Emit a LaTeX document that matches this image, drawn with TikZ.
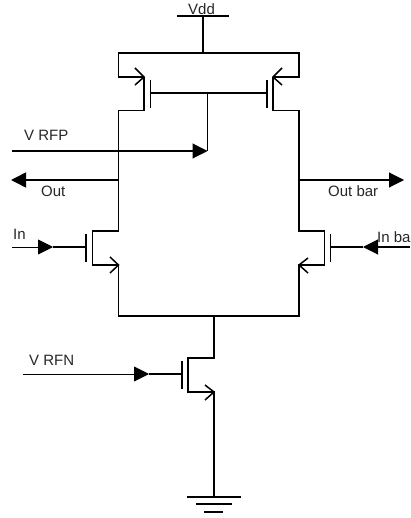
\documentclass[tikz,border=0pt]{standalone}
\usepackage{fontspec}
\setmainfont{Liberation Sans}
\usetikzlibrary{arrows.meta}
\tikzset{
  wire/.style={line width=1.6pt,black,line join=miter},
  thinwire/.style={line width=0.9pt,black},
  sig/.style={-{Triangle[length=15pt,width=15pt,fill=black]},shorten >=0pt},
  chev/.style={line width=1.5pt,black,line join=miter},
  lbl/.style={inner sep=0pt,anchor=base west,font=\fontsize{15}{17}\selectfont,text=black!85}
}
\begin{document}
\begin{tikzpicture}[x=1pt,y=-1pt]
\useasboundingbox (0,0) rectangle (410,518);
% key points
\coordinate (vddL) at (177,16); \coordinate (vddR) at (229,16); \coordinate (vddM) at (203,16);
\coordinate (railM) at (203,53);
\coordinate (p1s) at (144,77); \coordinate (p1d) at (144,110.5);
\coordinate (p2s) at (273,77); \coordinate (p2d) at (273,110.5);
\coordinate (gL) at (150.5,93); \coordinate (gR) at (267,93); \coordinate (gM) at (207.5,93);
\coordinate (rfpEnd) at (207.5,151); \coordinate (rfpStart) at (12,151);
\coordinate (outJ) at (118.5,180); \coordinate (outEnd) at (11,180);
\coordinate (obJ) at (299,180); \coordinate (obEnd) at (404,180);
\coordinate (n1d) at (92.5,231); \coordinate (n1s) at (118.5,265);
\coordinate (n2d) at (324.5,231); \coordinate (n2s) at (299,265);
\coordinate (n1g) at (86,247); \coordinate (n2g) at (330.5,247);
\coordinate (tailM) at (214,316);
\coordinate (n3d) at (188,358); \coordinate (n3s) at (214,392); \coordinate (n3g) at (182,374);
\coordinate (gnd) at (214,497);
% supply
\draw[wire] (vddL) -- (vddR);
\draw[wire] (vddM) -- (railM);
\draw[wire] (p1s) -- (118.5,77) -- (118.5,53) -- (299,53) -- (299,77) -- (p2s);
% PMOS pair and NMOS pair loop
\draw[wire] (p1s) -- (p1d) -- (118.5,110.5) -- (118.5,231) -- (n1d) -- (92.5,265) -- (n1s) -- (118.5,316) -- (299,316) -- (n2s) -- (324.5,265) -- (n2d) -- (299,231) -- (299,110.5) -- (p2d) -- (p2s);
\draw[wire] (150.5,80) -- (150.5,108);
\draw[wire] (267,80) -- (267,108);
\draw[wire] (gL) -- (gR);
\draw[wire] (gM) -- (rfpEnd);
% NMOS pair gates
\draw[wire] (86,234) -- (86,262);
\draw[wire] (330.5,234) -- (330.5,262);
% tail transistor
\draw[wire] (tailM) -- (214,358) -- (n3d) -- (188,392) -- (n3s) -- (gnd);
\draw[wire] (182,361) -- (182,389);
% ground
\draw[wire] (187,497) -- (241,497);
\draw[wire] (196,504) -- (232,504);
\draw[wire] (204,512) -- (223,512);
% chevrons
\draw[chev] (135,68) -- (p1s) -- (135,85);
\draw[chev] (282,68) -- (p2s) -- (282,85);
\draw[chev] (110,257) -- (n1s) -- (110,273);
\draw[chev] (308,258) -- (n2s) -- (308,273);
\draw[chev] (205,385) -- (n3s) -- (205,400);
% signals
\draw[wire,sig,line width=1.1pt] (rfpStart) -- (rfpEnd);
\draw[wire,sig] (outJ) -- (outEnd);
\draw[wire,sig,line width=1.1pt] (obJ) -- (obEnd);
\draw[thinwire,sig] (12,247) -- (53,247);
\draw[wire] (53,247) -- (n1g);
\draw[wire,sig,line width=1.1pt] (410,247) -- (363,247);
\draw[wire] (363,247) -- (n2g);
\draw[thinwire,sig] (23,374) -- (149,374);
\draw[wire] (149,374) -- (n3g);
% labels
\node[lbl] (tvdd) at (188,15) {Vdd};
\node[lbl] (trfp) at (24,141) {V RFP};
\node[lbl] (tout) at (41,197) {Out};
\node[lbl] (tin) at (13,239) {In};
\node[lbl] (tob) at (328,197) {Out bar};
\node[lbl] (tib) at (377,242) {In ba};
\node[lbl] (trfn) at (29,365) {V RFN};
\end{tikzpicture}
\end{document}
